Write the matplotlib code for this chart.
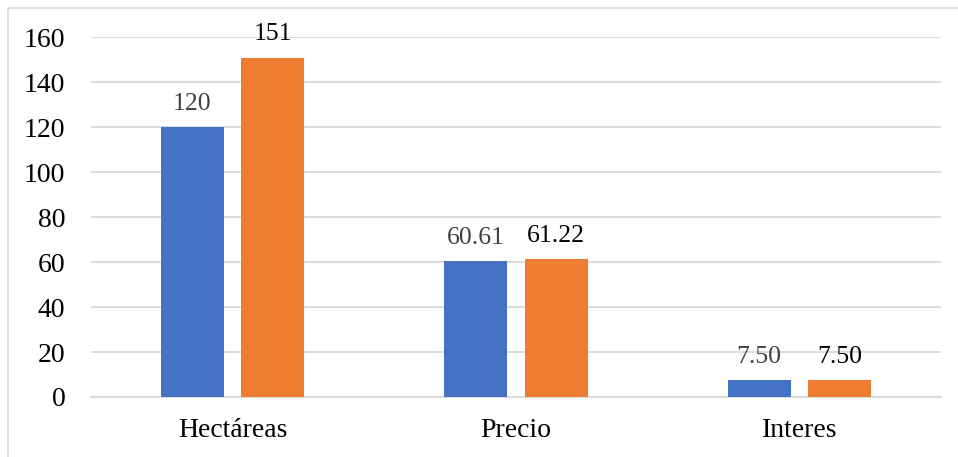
import matplotlib
matplotlib.use("Agg")
import matplotlib.pyplot as plt
from matplotlib.patches import Rectangle
import numpy as np

categories = ["Hectáreas", "Precio", "Interes"]
serie_a = [120, 60.61, 7.50]
serie_b = [151, 61.22, 7.50]
labels_a = ["120", "60.61", "7.50"]
labels_b = ["151", "61.22", "7.50"]
yticks = [0, 20, 40, 60, 80, 100, 120, 140, 160]

plt.rcParams["font.family"] = ["Liberation Serif", "DejaVu Serif"]

W, H = 958, 457
fig = plt.figure(figsize=(W / 100, H / 100), dpi=100)

# light frame around the chart area
fig.patches.append(Rectangle((8 / W, -0.1), 1.2, (H - 8) / H + 0.1,
                             transform=fig.transFigure, fill=False,
                             edgecolor="#D9D9D9", linewidth=1.2))

ax = fig.add_axes([91 / W, (H - 397) / H, (941 - 91) / W, (397 - 37.3) / H])

x = np.arange(len(categories))
width = 0.222
off = 0.142
blue = "#4472C4"
orange = "#ED7D31"

bars_a = ax.bar(x - off, serie_a, width, color=blue, zorder=3)
bars_b = ax.bar(x + off, serie_b, width, color=orange, zorder=3)

for b, lab in zip(bars_a, labels_a):
    ax.annotate(lab, (b.get_x() + b.get_width() / 2, b.get_height()),
                xytext=(0, 12.3), textcoords="offset points",
                ha="center", va="baseline", fontsize=18.5, color="#404040")
for b, lab in zip(bars_b, labels_b):
    ax.annotate(lab, (b.get_x() + b.get_width() / 2, b.get_height()),
                xytext=(0, 12.3), textcoords="offset points",
                ha="center", va="baseline", fontsize=18.5, color="black")

ax.set_xlim(-0.5, len(categories) - 0.5)
ax.set_ylim(0, 160)
ax.set_yticks(yticks)
ax.set_yticklabels([str(t) for t in yticks])
ax.set_xticks(x)
ax.set_xticklabels(categories)

ax.yaxis.grid(True, color="#D9D9D9", linewidth=1.3, zorder=0)
ax.set_axisbelow(True)
for s in ["top", "right", "left"]:
    ax.spines[s].set_visible(False)
ax.spines["bottom"].set_color("#D9D9D9")
ax.spines["bottom"].set_linewidth(1.3)

ax.tick_params(axis="y", length=0, pad=18.5, labelsize=20, labelcolor="black")
ax.tick_params(axis="x", length=0, pad=15, labelsize=20, labelcolor="black")

fig.savefig("out.png", dpi=100)
